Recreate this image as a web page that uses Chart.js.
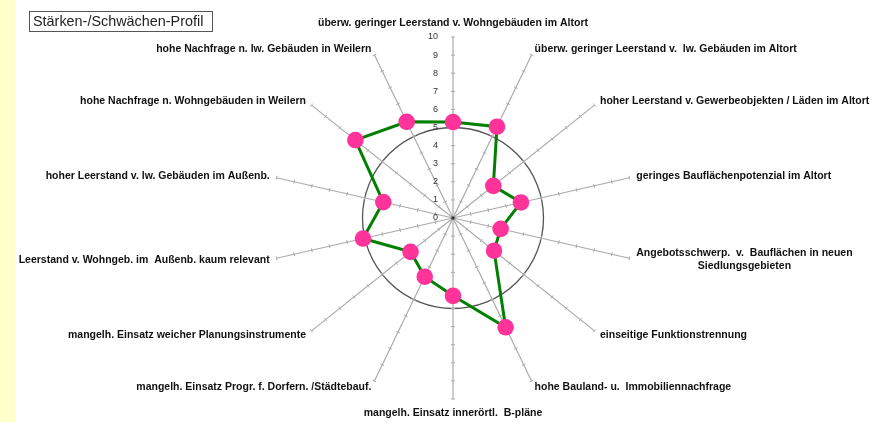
<!DOCTYPE html>
<html>
<head>
<meta charset="utf-8">
<script src="https://cdn.jsdelivr.net/npm/chart.js@4.4.1/dist/chart.umd.min.js"></script>
<style>
    body { margin: 0; background: #fff; }
    #wrap { position: relative; width: 873px; height: 422px; overflow: hidden; }
    #strip { position: absolute; left: 0; top: 0; width: 15px; height: 422px; background: #ffffcc; }
    #title {
        position: absolute; left: 29px; top: 11px; width: 179px; height: 19px;
        border: 1.5px solid #555; font: 14.4px "Liberation Sans", Arial, sans-serif;
        color: #222; line-height: 19px; padding-left: 3px; box-sizing: content-box;
    }
    canvas { position: absolute; left: 0; top: 0; }
</style>
</head>
<body>
<div id="wrap">
    <div id="strip"></div>
    <canvas id="radarChart" width="873" height="422"></canvas>
    <div id="title">Stärken-/Schwächen-Profil</div>
</div>
<script>
    const labels = [
        'überw. geringer Leerstand v. Wohngebäuden im Altort',
        'überw. geringer Leerstand v.  lw. Gebäuden im Altort',
        'hoher Leerstand v. Gewerbeobjekten / Läden im Altort',
        'geringes Bauflächenpotenzial im Altort',
        ['Angebotsschwerp.  v.  Bauflächen in neuen', 'Siedlungsgebieten'],
        'einseitige Funktionstrennung',
        'hohe Bauland- u.  Immobiliennachfrage',
        'mangelh. Einsatz innerörtl.  B-pläne',
        'mangelh. Einsatz Progr. f. Dorfern. /Städtebauf.',
        'mangelh. Einsatz weicher Planungsinstrumente',
        'Leerstand v. Wohngeb. im  Außenb. kaum relevant',
        'hoher Leerstand v. lw. Gebäuden im Außenb.',
        'hohe Nachfrage n. Wohngebäuden in Weilern',
        'hohe Nachfrage n. lw. Gebäuden in Weilern'
    ];
    const profileValues = [5.3, 5.6, 2.85, 3.85, 2.7, 2.9, 6.7, 4.3, 3.6, 3.0, 5.1, 3.95, 6.9, 5.9];
    const tickValues = [0, 1, 2, 3, 4, 5, 6, 7, 8, 9, 10];
    const circleValue = 5;

    const labelFont = 'bold 10.5px "Liberation Sans", Arial, sans-serif';
    const tickFont = '9px "Liberation Sans", Arial, sans-serif';

    // small cross marks on every spoke plus the number column on the top spoke
    const spokeTicks = {
        id: 'spokeTicks',
        beforeDatasetsDraw(chart) {
            const scale = chart.scales.r;
            const ctx = chart.ctx;
            ctx.save();
            ctx.strokeStyle = '#aaa';
            ctx.lineWidth = 1;
            labels.forEach((l, i) => {
                tickValues.forEach((v) => {
                    if (v === 0) return;
                    const p = scale.getPointPosition(i, scale.getDistanceFromCenterForValue(v));
                    const nx = -Math.sin(p.angle), ny = Math.cos(p.angle);
                    ctx.beginPath();
                    ctx.moveTo(p.x - nx * 2, p.y - ny * 2);
                    ctx.lineTo(p.x + nx * 2, p.y + ny * 2);
                    ctx.stroke();
                });
            });
            ctx.fillStyle = '#333';
            ctx.fillRect(scale.xCenter - 1.5, scale.yCenter - 1.5, 3, 3);

            ctx.font = tickFont;
            ctx.fillStyle = '#333';
            ctx.textAlign = 'right';
            ctx.textBaseline = 'middle';
            tickValues.forEach((v) => {
                const y = scale.yCenter - scale.getDistanceFromCenterForValue(v);
                ctx.fillText(String(v), scale.xCenter - 15, y);
            });
            ctx.restore();
        }
    };

    // category names at the spoke ends
    const spokeLabels = {
        id: 'spokeLabels',
        afterDraw(chart) {
            const scale = chart.scales.r;
            const ctx = chart.ctx;
            ctx.save();
            ctx.font = labelFont;
            ctx.fillStyle = '#111';
            ctx.textBaseline = 'middle';
            const lineH = 13;
            labels.forEach((label, i) => {
                const lines = Array.isArray(label) ? label : [label];
                const p = scale.getPointPosition(i, scale.drawingArea + 7);
                const s = Math.cos(p.angle);
                const blockW = Math.max(...lines.map(t => ctx.measureText(t).width));
                let cx, y = p.y - (lines.length - 1) * lineH / 2;
                if (Math.abs(s) < 0.01) {
                    cx = p.x;
                    y += Math.sin(p.angle) * 7;
                } else if (s > 0) {
                    cx = p.x + blockW / 2;
                } else {
                    cx = p.x - blockW / 2;
                }
                ctx.textAlign = 'center';
                lines.forEach((t, k) => ctx.fillText(t, cx, y + k * lineH));
            });
            ctx.restore();
        }
    };

    new Chart(document.getElementById('radarChart'), {
        type: 'radar',
        data: {
            labels: labels,
            datasets: [{
                data: profileValues,
                fill: false,
                borderColor: '#008000',
                borderWidth: 3,
                pointRadius: 8.3,
                pointBorderWidth: 0,
                pointBackgroundColor: '#ff3399',
                pointBorderColor: '#ff3399',
                tension: 0
            }]
        },
        options: {
            responsive: false,
            animation: false,
            layout: {padding: {left: 272, right: 239, top: 37, bottom: 23}},
            plugins: {legend: {display: false}, tooltip: {enabled: false}},
            scales: {
                r: {
                    min: 0,
                    max: 10,
                    ticks: {display: false, stepSize: 1},
                    grid: {
                        circular: true,
                        color: (c) => c.tick && c.tick.value === circleValue ? '#555' : 'rgba(0,0,0,0)',
                        lineWidth: 1.3
                    },
                    angleLines: {color: '#ababab', lineWidth: 1.2},
                    pointLabels: {display: false}
                }
            }
        },
        plugins: [spokeTicks, spokeLabels]
    });
</script>
</body>
</html>
